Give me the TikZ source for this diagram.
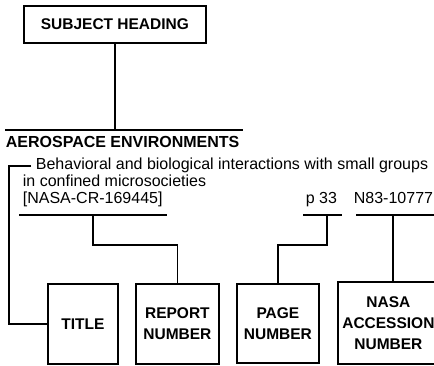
\documentclass[tikz,border=0pt]{standalone}
\usepackage{fontspec}
\setmainfont{Liberation Sans}
\begin{document}
\begin{tikzpicture}[x=1pt,y=-1pt, line width=1.8pt,
  lbl/.style={font=\fontsize{15.5}{21}\selectfont\bfseries, align=center},
  box/.style={draw, lbl, inner sep=0pt, anchor=north west},
  body/.style={font=\fontsize{16}{17}\selectfont, anchor=base west, inner sep=0pt},
  head/.style={font=\fontsize{16}{17}\selectfont\bfseries, anchor=base west, inner sep=0pt}]
\useasboundingbox (0,0) rectangle (434,366);
% boxes
\node[box, minimum width=182pt, minimum height=37pt] (subj) at (23,5) {SUBJECT HEADING};
\node[box, minimum width=70pt, minimum height=80pt] (title) at (47,283) {TITLE};
\node[box, minimum width=83pt, minimum height=80pt] (report) at (135,283) {REPORT\\NUMBER};
\node[box, minimum width=82pt, minimum height=79pt] (page) at (236,283) {PAGE\\NUMBER};
\node[box, minimum width=101pt, minimum height=82pt] (nasa) at (337,281) {NASA\\ACCESSION\\NUMBER};
% texts
\node[head] (aero) at (5,148) {AEROSPACE ENVIRONMENTS};
\node[body] (beh) at (35,170) {Behavioral and biological interactions with small groups};
\node[body] (conf) at (22,187) {in confined microsocieties};
\node[body] (rep) at (22,204) {[NASA-CR-169445]};
\node[body] (pg) at (305,204) {p 33};
\node[body] (acc) at (353,204) {N83-10777};
% coordinates
\coordinate (hlL) at (5,130);
\coordinate (hlR) at (243,130);
\coordinate (tc) at (9,163);
\coordinate (u1L) at (19,215);
\coordinate (u1R) at (167,215);
\coordinate (u1m) at (93,215);
\coordinate (u2L) at (303,215);
\coordinate (u2R) at (342,215);
\coordinate (u2m) at (327,215);
\coordinate (u3L) at (356,215);
\coordinate (u3R) at (436,215);
\coordinate (u3m) at (393,215);
% connectors
\draw (hlL) -- (hlR);
\draw (subj.south) -- (subj.south |- hlL);
\draw ([xshift=-4pt]beh.west) -- (beh.west -| tc) |- (title.west);
\draw (u1L) -- (u1R);
\draw (u1m) -- ++(0,30) -| (report.north);
\draw (u2L) -- (u2R);
\draw (u2m) -- ++(0,30) -| (page.north);
\draw (u3L) -- (u3R);
\draw (u3m) -- (u3m |- nasa.north);
\end{tikzpicture}
\end{document}
